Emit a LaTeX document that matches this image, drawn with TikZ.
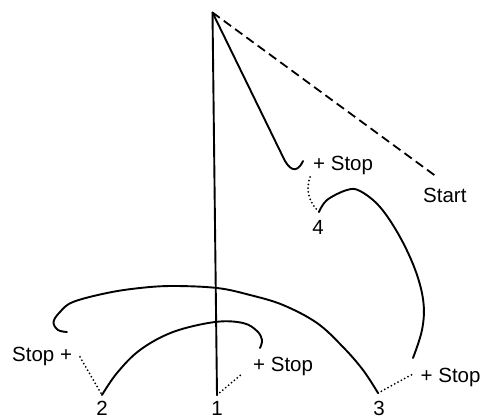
\documentclass[tikz,border=0pt]{standalone}
\usepackage{fontspec}
\setmainfont{Liberation Sans}
\begin{document}
\begin{tikzpicture}[x=1pt,y=-1pt,
  solidline/.style={line width=1.9pt,line cap=round,line join=round},
  dashline/.style={line width=1.8pt,dash pattern=on 9pt off 5pt},
  dotline/.style={line width=2pt,line cap=round,dash pattern=on 0pt off 3.8pt},
  lbl/.style={inner sep=0pt,font=\fontsize{20.5}{24}\selectfont}]
\useasboundingbox (0,0) rectangle (482,419);
% key points
\coordinate (apex) at (212.5,12.5);
\coordinate (p1) at (217,395);
\coordinate (p2) at (102,395);
\coordinate (p3) at (378,393);
\coordinate (p4) at (319,212);
\coordinate (startend) at (437,177);
\coordinate (hookA) at (283,157);
\coordinate (hookAend) at (303,161);
% labels
\node[lbl,anchor=base west] (stop4) at (313,171) {+ Stop};
\node[lbl,anchor=base west] (start) at (423,203) {Start};
\node[lbl,anchor=base west] (stop1) at (253,372) {+ Stop};
\node[lbl,anchor=base west] (stop2) at (12,362) {Stop +};
\node[lbl,anchor=base west] (stop3) at (420.5,383) {+ Stop};
\node[lbl,anchor=base] (n1) at (217,416) {1};
\node[lbl,anchor=base] (n2) at (102,416) {2};
\node[lbl,anchor=base] (n3) at (379,416) {3};
\node[lbl,anchor=base] (n4) at (318,235) {4};
% main lines
\draw[solidline] (apex) -- (p1);
\draw[dashline] (apex) -- (startend);
\draw[solidline] (apex) -- (hookA) .. controls (288,168) and (296,176) .. (hookAend);
% big arc through 3
\draw[solidline] plot[smooth,tension=0.6] coordinates {(378,393) (363,370) (343,347) (317,323) (283,305) (250,295) (217,288) (173,286) (140,288) (107,293) (73,302) (60,312) (53.5,322) (58,330) (67,332)};
% small arc through 2
\draw[solidline] plot[smooth,tension=0.6] coordinates {(102,395) (117,373) (140,350) (173,332) (215,322) (243,323) (257,331) (262,340) (260,348)};
% curve 4
\draw[solidline] plot[smooth,tension=0.6] coordinates {(319,212) (327,200) (347,190) (360,191) (380,207) (400,237) (416,272) (423.5,303) (422,330) (413,358)};
% dotted connectors
\draw[dotline] (310,177) .. controls (305,192) and (310,203) .. (p4);
\draw[dotline] (80,357) -- (p2);
\draw[dotline] (p1) -- (243,373);
\draw[dotline] (p3) -- (413,374);
\end{tikzpicture}
\end{document}
